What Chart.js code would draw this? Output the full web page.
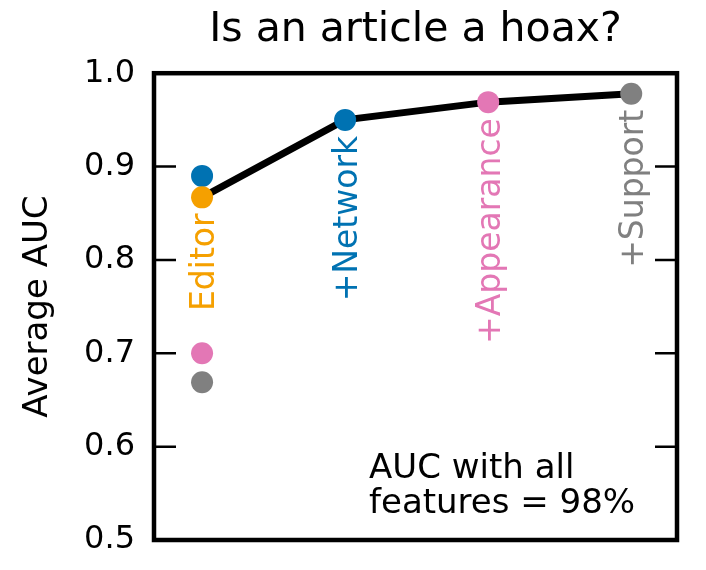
<!DOCTYPE html>
<html>
<head>
<meta charset="utf-8">
<script src="https://cdn.jsdelivr.net/npm/chart.js@4.4.1/dist/chart.umd.min.js"></script>
<style>
  body { margin: 0; background: #fff; }
  #wrap { width: 706px; height: 570px; }
</style>
</head>
<body>
<div id="wrap"><canvas id="hoax-chart"></canvas></div>
<script>
  // feature sets added one after the other
  const stages = ['Editor', '+Network', '+Appearance', '+Support'];
  const stageAuc = [0.867, 0.950, 0.969, 0.978];
  const stageColors = ['#F5A000', '#0072B2', '#E377B5', '#808080'];

  // single feature sets on their own (drawn in the Editor column)
  const aloneAuc = [0.890, 0.700, 0.669];
  const aloneColors = ['#0072B2', '#E377B5', '#808080'];

  const yTicks = [0.5, 0.6, 0.7, 0.8, 0.9, 1.0];
  const noteLines = ['AUC with all', 'features = 98%'];

  const FONT = "'DejaVu Sans', sans-serif";

  // frame with inward ticks on both sides
  const framePlugin = {
    id: 'frame',
    beforeDatasetsDraw(chart) {
      const ctx = chart.ctx;
      const a = chart.chartArea;
      const y = chart.scales.y;
      ctx.save();
      ctx.strokeStyle = '#000';
      ctx.lineWidth = 2.5;
      yTicks.forEach(function (t) {
        const py = y.getPixelForValue(t);
        ctx.beginPath();
        ctx.moveTo(a.left, py); ctx.lineTo(a.left + 22, py);
        ctx.moveTo(a.right - 22, py); ctx.lineTo(a.right, py);
        ctx.stroke();
      });
      ctx.lineWidth = 4.5;
      ctx.strokeRect(a.left, a.top, a.right - a.left, a.bottom - a.top);
      ctx.restore();
    }
  };

  // rotated stage names below each point, plus the note
  const labelPlugin = {
    id: 'stageLabels',
    afterDatasetsDraw(chart) {
      const ctx = chart.ctx;
      const x = chart.scales.x;
      const y = chart.scales.y;
      ctx.save();
      ctx.font = '33px ' + FONT;
      stages.forEach(function (name, i) {
        const px = x.getPixelForValue(i) + 3;
        const py = y.getPixelForValue(stageAuc[i]) + 16;
        ctx.save();
        ctx.translate(px, py);
        ctx.rotate(-Math.PI / 2);
        ctx.textAlign = 'right';
        ctx.textBaseline = 'middle';
        ctx.fillStyle = stageColors[i];
        ctx.fillText(name, 0, 0);
        ctx.restore();
      });
      ctx.fillStyle = '#000';
      ctx.textAlign = 'left';
      ctx.textBaseline = 'alphabetic';
      ctx.font = '34px ' + FONT;
      noteLines.forEach(function (line, i) {
        ctx.fillText(line, 369, 478 + i * 35);
      });
      ctx.restore();
    }
  };

  const ctx = document.getElementById('hoax-chart').getContext('2d');
  new Chart(ctx, {
    type: 'scatter',
    data: {
      datasets: [
        {
          label: 'stages',
          data: stageAuc.map((v, i) => ({ x: i, y: v })),
          pointRadius: 11,
          pointHoverRadius: 11,
          pointBackgroundColor: stageColors,
          pointBorderWidth: 0,
          showLine: false,
          order: 0
        },
        {
          label: 'alone',
          data: aloneAuc.map(v => ({ x: 0, y: v })),
          pointRadius: 11,
          pointHoverRadius: 11,
          pointBackgroundColor: aloneColors,
          pointBorderWidth: 0,
          showLine: false,
          order: 1
        },
        {
          label: 'line',
          data: stageAuc.map((v, i) => ({ x: i, y: v })),
          showLine: true,
          borderColor: '#000',
          borderWidth: 7,
          pointRadius: 0,
          order: 2
        }
      ]
    },
    options: {
      responsive: true,
      maintainAspectRatio: false,
      animation: false,
      clip: false,
      layout: { padding: { left: 0, right: 29, top: 0, bottom: 30 } },
      plugins: {
        legend: { display: false },
        tooltip: { enabled: false },
        title: {
          display: true,
          fullSize: false,
          text: 'Is an article a hoax?',
          color: '#000',
          font: { family: FONT, size: 41, weight: 'normal', lineHeight: 1.2 },
          padding: { top: 6, bottom: 18 }
        }
      },
      scales: {
        x: {
          type: 'linear',
          display: false,
          min: -0.336,
          max: 3.32
        },
        y: {
          min: 0.5,
          max: 1.0,
          afterFit: function (scale) {
            scale.width = 154;
            scale.paddingTop = 0;
            scale.paddingBottom = 0;
          },
          afterBuildTicks: function (scale) {
            scale.ticks = yTicks.map(v => ({ value: v }));
          },
          grid: { display: false, drawTicks: false },
          border: { display: false },
          ticks: {
            color: '#000',
            padding: 19,
            font: { family: FONT, size: 32 },
            callback: v => v.toFixed(1)
          },
          title: {
            display: true,
            text: 'Average AUC',
            color: '#000',
            font: { family: FONT, size: 34 },
            padding: { top: 18, bottom: 0 }
          }
        }
      }
    },
    plugins: [framePlugin, labelPlugin]
  });
</script>
</body>
</html>
